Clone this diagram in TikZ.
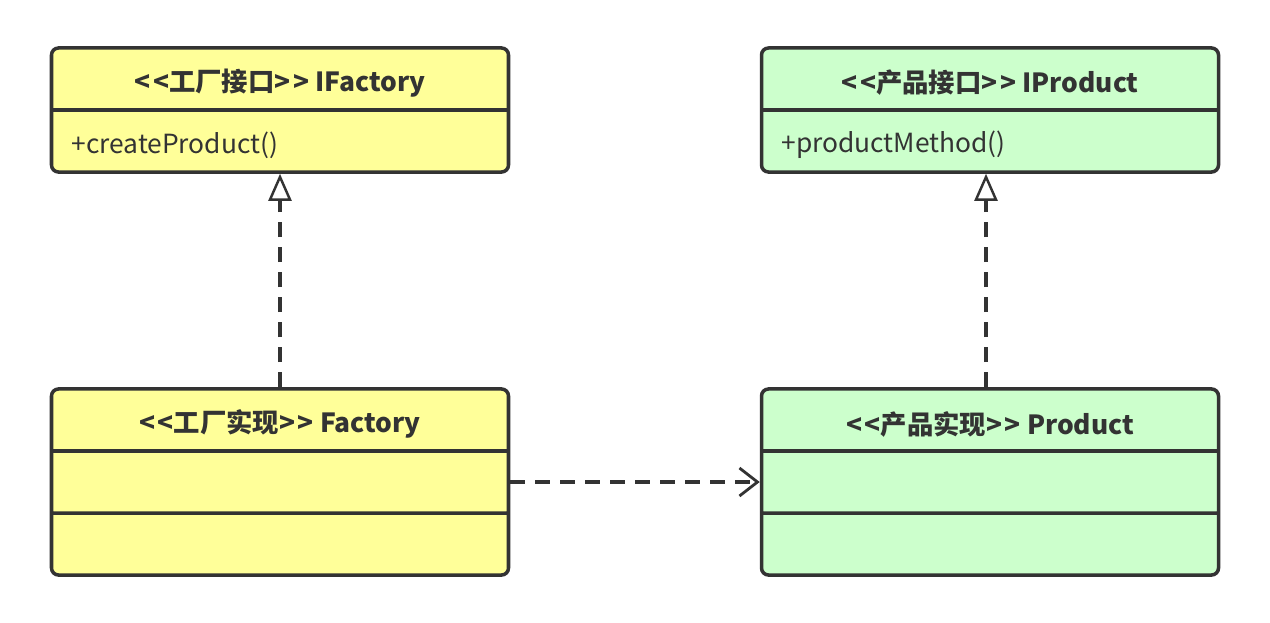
\documentclass[tikz,border=0pt]{standalone}
\usepackage{fontspec}
\setmainfont{Noto Sans CJK SC}
\usepackage{xcolor}
\usepackage{tikz}
\usetikzlibrary{arrows.meta,shapes.multipart}
\definecolor{linedark}{HTML}{333333}
\definecolor{softyellow}{HTML}{FFFF99}
\definecolor{softgreen}{HTML}{CCFFCC}
\newcommand{\umlrow}[1]{\parbox[c][1.17cm][c]{8.34cm}{\vspace{1.6mm}#1}}
\newcommand{\stereo}[1]{<\kern1.5pt<#1>\kern1.5pt>}
\tikzset{
  umlclass/.style={draw=linedark, line width=2pt, rounded corners=4pt, rectangle split, rectangle split parts=#1, inner xsep=0.4cm, inner ysep=0pt, text=linedark, font=\fontsize{15}{18}\selectfont},
  factoryclass/.style={umlclass=#1, fill=softyellow},
  productclass/.style={umlclass=#1, fill=softgreen},
  realizearrow/.style={-{Triangle[open, length=5.4mm, width=4.6mm, line width=1.4pt]}, line width=2pt, draw=linedark, dash pattern=on 3mm off 2mm},
  dependarrow/.style={-{Straight Barb[length=3.6mm, width=5.6mm, line width=1.6pt]}, line width=2pt, draw=linedark, dash pattern=on 3mm off 2mm}
}
\begin{document}
\begin{tikzpicture}
  \useasboundingbox[fill=white] (0,0) rectangle (25.4,-12.44);

  \node[factoryclass=2] (ifactory) at (5.6,-2.2) {\umlrow{\centering\bfseries \stereo{工厂接口} IFactory}
    \nodepart{two}\umlrow{+createProduct()}};
  \node[productclass=2] (iproduct) at (19.8,-2.2) {\umlrow{\centering\bfseries \stereo{产品接口} IProduct}
    \nodepart{two}\umlrow{+productMethod()}};
  \node[factoryclass=3] (factory) at (5.6,-9.64) {\umlrow{\centering\bfseries \stereo{工厂实现} Factory}
    \nodepart{two}\umlrow{}\nodepart{three}\umlrow{}};
  \node[productclass=3] (product) at (19.8,-9.64) {\umlrow{\centering\bfseries \stereo{产品实现} Product}
    \nodepart{two}\umlrow{}\nodepart{three}\umlrow{}};

  \draw[realizearrow] (factory.north) -- (ifactory.south);
  \draw[realizearrow] ([xshift=-0.08cm]product.north) -- ([xshift=-0.08cm]iproduct.south);
  \draw[dependarrow] (factory.east) -- (product.west);
\end{tikzpicture}
\end{document}
